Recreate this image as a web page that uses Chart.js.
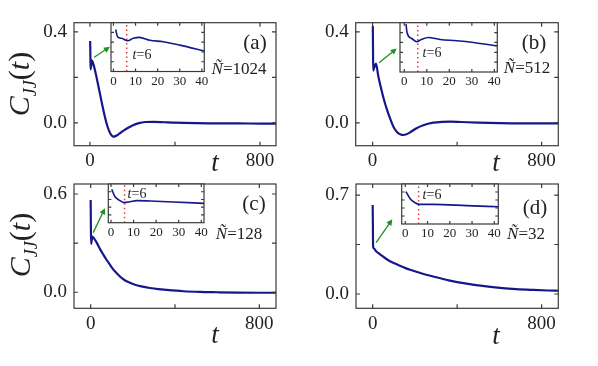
<!DOCTYPE html>
<html>
<head>
<meta charset="utf-8">
<script src="https://cdn.jsdelivr.net/npm/chart.js@4.4.1/dist/chart.umd.min.js"></script>
<style>
  body { margin: 0; background: #fff; }
  #wrap { position: relative; width: 598px; height: 366px; overflow: hidden;
          font-family: "Liberation Serif", "Times New Roman", serif; color: #222; }
  #wrap canvas { position: absolute; left: 0; top: 0; }
  .lbl { position: absolute; white-space: nowrap; transform: translate(-50%, -50%); line-height: 1; }
  .ytitle { font-size: 30px; transform: translate(-50%, -50%) rotate(-90deg); }
  .ytitle sub { font-size: 60%; }
  .xtitle { font-size: 27px; font-style: italic; }
  .tag { font-size: 21px; }
  .nn { font-size: 17px; }
  .t6 { font-size: 14px; }
</style>
</head>
<body>
<div id="wrap">
  <div class="lbl ytitle" style="left:21px;top:84px"><i>C</i><sub><i>JJ</i></sub>(<i>t</i>)</div>
  <div class="lbl ytitle" style="left:22px;top:245px"><i>C</i><sub><i>JJ</i></sub>(<i>t</i>)</div>
  <div class="lbl xtitle" style="left:215px;top:162px">t</div>
  <div class="lbl xtitle" style="left:496px;top:162px">t</div>
  <div class="lbl xtitle" style="left:215px;top:334px">t</div>
  <div class="lbl xtitle" style="left:496px;top:335px">t</div>
  <div class="lbl tag" style="left:255px;top:42px">(a)</div>
  <div class="lbl tag" style="left:534px;top:42px">(b)</div>
  <div class="lbl tag" style="left:254px;top:203px">(c)</div>
  <div class="lbl tag" style="left:535px;top:207px">(d)</div>
  <div class="lbl nn" style="left:239px;top:68px"><i>Ñ</i>=1024</div>
  <div class="lbl nn" style="left:527px;top:67px"><i>Ñ</i>=512</div>
  <div class="lbl nn" style="left:239px;top:233px"><i>Ñ</i>=128</div>
  <div class="lbl nn" style="left:526px;top:233px"><i>Ñ</i>=32</div>
  <div class="lbl t6" style="left:142px;top:55px"><i>t</i>=6</div>
  <div class="lbl t6" style="left:432px;top:53px"><i>t</i>=6</div>
  <div class="lbl t6" style="left:137px;top:194px"><i>t</i>=6</div>
  <div class="lbl t6" style="left:432px;top:195px"><i>t</i>=6</div>
</div>
<script>
// main curves C_JJ(t)
const tA = [1, 2, 3, 9, 14, 20, 30, 40, 50, 60, 70, 80, 90, 100, 108, 120, 140, 160, 180, 200, 230, 260, 300, 350, 400, 500, 600, 700, 800, 878];
const cA = [0.36, 0.30, 0.235, 0.275, 0.265, 0.245, 0.205, 0.16, 0.115, 0.07, 0.028, -0.008, -0.035, -0.053, -0.06, -0.058, -0.046, -0.033, -0.021, -0.011, -0.001, 0.004, 0.005, 0.003, 0.001, -0.001, -0.002, -0.002, -0.003, -0.003];

const tB = [1, 2, 3, 10, 16, 27, 40, 50, 60, 74, 86, 98, 110, 121, 133, 145, 160, 180, 208, 240, 287, 330, 366, 420, 500, 600, 700, 800, 879];
const cB = [0.425, 0.32, 0.23, 0.25, 0.26, 0.205, 0.152, 0.115, 0.082, 0.042, 0.012, -0.016, -0.034, -0.045, -0.051, -0.053, -0.05, -0.04, -0.023, -0.01, 0.001, 0.005, 0.006, 0.004, 0.001, -0.001, -0.002, -0.002, -0.002];

const tC = [0, 1, 2, 8, 15, 30, 44, 60, 76, 92, 107, 123, 139, 160, 186, 210, 240, 281, 320, 360, 440, 518, 600, 700, 800, 879];
const cC = [0.563, 0.42, 0.295, 0.34, 0.33, 0.30, 0.265, 0.23, 0.197, 0.167, 0.14, 0.117, 0.096, 0.075, 0.058, 0.046, 0.036, 0.026, 0.019, 0.014, 0.006, 0.002, 0, -0.002, -0.003, -0.003];

const tD = [0, 1, 2, 6, 15, 35, 60, 82, 105, 129, 153, 177, 230, 287, 360, 445, 520, 603, 680, 761, 830, 879];
const cD = [0.629, 0.47, 0.334, 0.322, 0.305, 0.28, 0.253, 0.232, 0.215, 0.2, 0.185, 0.172, 0.147, 0.124, 0.097, 0.073, 0.057, 0.044, 0.035, 0.029, 0.025, 0.023];

// insets, t = 0..40 (y in relative units, no labels in the picture)
const itA = [1.0, 1.9, 3.7, 6.4, 9.0, 11.7, 16.5, 22.5, 30.1, 41.1];
const ivA = [0.86, 0.71, 0.68, 0.63, 0.68, 0.70, 0.64, 0.61, 0.54, 0.42];
const itB = [0.75, 1.3, 3.3, 5.5, 7.6, 10.6, 15.9, 23.3, 30.7, 41.3];
const ivB = [0.97, 0.785, 0.68, 0.615, 0.66, 0.70, 0.66, 0.635, 0.60, 0.53];
const itC = [0.3, 1.8, 4, 5.8, 8.4, 11.4, 17.3, 27.6, 41.2];
const ivC = [0.86, 0.67, 0.57, 0.52, 0.54, 0.57, 0.56, 0.535, 0.50];
const itD = [0.3, 2.1, 4.4, 6.3, 12.6, 27.6, 41.8];
const ivD = [0.81, 0.64, 0.53, 0.49, 0.49, 0.46, 0.43];

const xTicksMain = [0, 400, 800];
const xLabelsMain = [0, 800];
const yTicksAB = [0, 0.2, 0.4];
const yTicksC = [0, 0.3, 0.6];
const yTicksD = [0, 0.35, 0.7];
const insetXTicks = [0, 10, 20, 30, 40];
const insetYTicks = [0.2, 0.4, 0.6, 0.8];
const markT = 6;

const W = 598, H = 366;
const NAVY = '#17178c';
const FRAME = '#3a3a3a';
const SERIF = '"Liberation Serif", "Times New Roman", serif';
const XAXIS_H = 40, INSET_XAXIS_H = 24;

function addCanvas() {
  const c = document.createElement('canvas');
  c.width = W; c.height = H;
  document.getElementById('wrap').insertBefore(c, document.querySelector('.lbl'));
  return c;
}

// frame box with inward ticks on all four sides
function framePlugin(xt, yt, len, bg) {
  return {
    id: 'frame',
    beforeDatasetsDraw(chart) {
      if (!bg) return;
      const a = chart.chartArea, ctx = chart.ctx;
      ctx.save();
      ctx.fillStyle = '#fff';
      ctx.fillRect(a.left, a.top, a.right - a.left, a.bottom - a.top);
      ctx.restore();
    },
    afterDatasetsDraw(chart) {
      const a = chart.chartArea, ctx = chart.ctx;
      const sx = chart.scales.x, sy = chart.scales.y;
      ctx.save();
      ctx.strokeStyle = FRAME;
      ctx.lineWidth = 1.2;
      ctx.strokeRect(a.left, a.top, a.right - a.left, a.bottom - a.top);
      ctx.beginPath();
      xt.forEach(v => {
        const p = sx.getPixelForValue(v);
        ctx.moveTo(p, a.bottom); ctx.lineTo(p, a.bottom - len);
        ctx.moveTo(p, a.top); ctx.lineTo(p, a.top + len);
      });
      yt.forEach(v => {
        const p = sy.getPixelForValue(v);
        ctx.moveTo(a.left, p); ctx.lineTo(a.left + len, p);
        ctx.moveTo(a.right, p); ctx.lineTo(a.right - len, p);
      });
      ctx.stroke();
      ctx.restore();
    }
  };
}

// green arrow pointing at the inset, given in data units of the main panel
function arrowPlugin(from, to) {
  return {
    id: 'arrow',
    afterDatasetsDraw(chart) {
      const sx = chart.scales.x, sy = chart.scales.y, ctx = chart.ctx;
      const x0 = sx.getPixelForValue(from[0]), y0 = sy.getPixelForValue(from[1]);
      const x1 = sx.getPixelForValue(to[0]), y1 = sy.getPixelForValue(to[1]);
      const ang = Math.atan2(y1 - y0, x1 - x0);
      ctx.save();
      ctx.strokeStyle = '#1f8f1f';
      ctx.fillStyle = '#1f8f1f';
      ctx.lineWidth = 1.3;
      ctx.beginPath();
      ctx.moveTo(x0, y0);
      ctx.lineTo(x1 - 4 * Math.cos(ang), y1 - 4 * Math.sin(ang));
      ctx.stroke();
      ctx.beginPath();
      ctx.moveTo(x1, y1);
      ctx.lineTo(x1 - 6 * Math.cos(ang) + 3 * Math.sin(ang), y1 - 6 * Math.sin(ang) - 3 * Math.cos(ang));
      ctx.lineTo(x1 - 6 * Math.cos(ang) - 3 * Math.sin(ang), y1 - 6 * Math.sin(ang) + 3 * Math.cos(ang));
      ctx.closePath();
      ctx.fill();
      ctx.restore();
    }
  };
}

function pts(t, v) {
  return t.map((x, i) => ({ x: x, y: v[i] }));
}

const noGrid = { display: false, drawTicks: false, tickLength: 0 };

function mainChart(box, t, c, xr, yr, yTicks, yLabels, arrow) {
  return new Chart(addCanvas(), {
    type: 'line',
    data: {
      datasets: [{
        data: pts(t, c),
        borderColor: NAVY,
        borderWidth: 2.2,
        pointRadius: 0,
        cubicInterpolationMode: 'monotone',
        fill: false
      }]
    },
    options: {
      responsive: false,
      animation: false,
      events: [],
      layout: { padding: { left: box.l - 60, top: box.t, right: W - box.r, bottom: H - box.b - XAXIS_H } },
      plugins: { legend: { display: false }, tooltip: { enabled: false } },
      scales: {
        x: {
          type: 'linear', min: xr[0], max: xr[1],
          afterBuildTicks: s => { s.ticks = xTicksMain.map(v => ({ value: v })); },
          afterFit: s => { s.height = XAXIS_H; },
          grid: noGrid, border: { display: false },
          ticks: {
            padding: 4, maxRotation: 0, autoSkip: false, color: '#222',
            font: { family: SERIF, size: 19 },
            callback: v => xLabelsMain.includes(v) ? String(v) : ''
          }
        },
        y: {
          type: 'linear', min: yr[0], max: yr[1],
          afterBuildTicks: s => { s.ticks = yTicks.map(v => ({ value: v })); },
          afterFit: s => { s.width = 60; },
          grid: noGrid, border: { display: false },
          ticks: {
            padding: 7, autoSkip: false, color: '#222',
            font: { family: SERIF, size: 19 },
            callback: v => yLabels.includes(v) ? v.toFixed(1) : ''
          }
        }
      }
    },
    plugins: [framePlugin(xTicksMain, yTicks, 4, false), arrowPlugin(arrow[0], arrow[1])]
  });
}

function insetChart(box, t, v, xr) {
  return new Chart(addCanvas(), {
    type: 'line',
    data: {
      datasets: [{
        data: pts(t, v),
        borderColor: NAVY,
        borderWidth: 1.6,
        pointRadius: 0,
        cubicInterpolationMode: 'monotone',
        fill: false
      }, {
        data: [{ x: markT, y: 0 }, { x: markT, y: 1 }],
        borderColor: '#e8383a',
        borderWidth: 1.5,
        borderDash: [1.5, 3],
        pointRadius: 0
      }]
    },
    options: {
      responsive: false,
      animation: false,
      events: [],
      layout: { padding: { left: box.l, top: box.t, right: W - box.r, bottom: H - box.b - INSET_XAXIS_H } },
      plugins: { legend: { display: false }, tooltip: { enabled: false } },
      scales: {
        x: {
          type: 'linear', min: xr[0], max: xr[1],
          afterBuildTicks: s => { s.ticks = insetXTicks.map(v => ({ value: v })); },
          afterFit: s => { s.height = INSET_XAXIS_H; },
          grid: noGrid, border: { display: false },
          ticks: { padding: 2, maxRotation: 0, autoSkip: false, color: '#222', font: { family: SERIF, size: 13 } }
        },
        y: { display: false, min: 0, max: 1 }
      }
    },
    plugins: [framePlugin(insetXTicks, insetYTicks, 3, true)]
  });
}

mainChart({ l: 74, r: 276, t: 22.7, b: 145.7 }, tA, cA, [-75, 875], [-0.1, 0.44], yTicksAB, [0, 0.4], [[20, 0.288], [94, 0.334]]);
mainChart({ l: 355.7, r: 558.3, t: 22.7, b: 145.7 }, tB, cB, [-80, 879], [-0.1, 0.44], yTicksAB, [0, 0.4], [[31, 0.264], [114, 0.327]]);
mainChart({ l: 74, r: 276, t: 184, b: 308.3 }, tC, cC, [-79, 879], [-0.098, 0.661], yTicksC, [0, 0.6], [[12, 0.364], [68, 0.513]]);
mainChart({ l: 356, r: 558.3, t: 184, b: 308.3 }, tD, cD, [-79, 879], [-0.101, 0.778], yTicksD, [0, 0.7], [[16, 0.363], [93, 0.528]]);

insetChart({ l: 111, r: 204.3, t: 22.7, b: 71.5 }, itA, ivA, [-1.1, 41.1]);
insetChart({ l: 400, r: 497.3, t: 22.7, b: 72 }, itB, ivB, [-1.9, 41.3]);
insetChart({ l: 108.3, r: 204, t: 184, b: 222.7 }, itC, ivC, [-1.2, 41.2]);
insetChart({ l: 401.7, r: 498.3, t: 184, b: 224 }, itD, ivD, [-1.6, 41.8]);
</script>
</body>
</html>
